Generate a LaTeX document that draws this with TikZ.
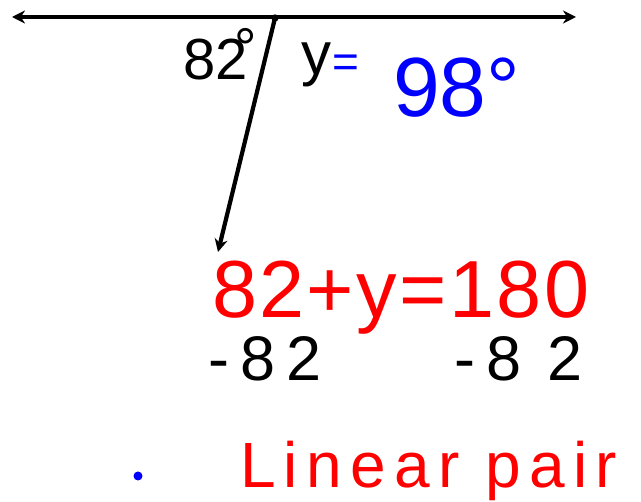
\documentclass[tikz,border=0pt]{standalone}
\usepackage{fontspec}
\setmainfont{Liberation Sans}
\usetikzlibrary{arrows.meta,positioning}
\definecolor{penred}{RGB}{255,0,0}
\definecolor{penblue}{RGB}{0,0,255}
\tikzset{
  label82/.style={inner sep=0pt,anchor=base west,font=\fontsize{58}{60}\selectfont},
  labely/.style={inner sep=0pt,anchor=base west,font=\fontsize{60}{62}\selectfont},
  redpen/.style={inner sep=0pt,anchor=base west,text=penred,font=\fontsize{81}{83}\selectfont\addfontfeature{LetterSpace=3}},
  reasonpen/.style={inner sep=0pt,anchor=base west,text=penred,font=\fontsize{64}{66}\selectfont\addfontfeature{LetterSpace=13}},
  bluepen/.style={inner sep=0pt,anchor=base west,text=penblue,font=\fontsize{84}{86}\selectfont},
  blackpen/.style={inner sep=0pt,anchor=base west,font=\fontsize{63}{65}\selectfont\addfontfeature{LetterSpace=18}},
  vertexdot/.style={circle,fill,inner sep=2.6pt}
}

\begin{document}
\begin{tikzpicture}[x=1pt,y=-1pt,>={Stealth[length=13pt,width=13pt]},line width=4.2pt]
  \useasboundingbox (0,0) rectangle (641,502);
  % the line and the ray
  \coordinate (leftEnd) at (12,17);
  \coordinate (rightEnd) at (576,17);
  \node[vertexdot] (vertex) at (275,18) {};
  \coordinate (rayEnd) at (218,252);
  \draw[<->] (leftEnd) -- (rightEnd);
  \draw[->] (vertex.center) -- (rayEnd);
  % angle labels
  \node[label82] (angA) at (181,80) {82};
  \node[inner sep=0pt,anchor=north,font=\fontsize{56}{56}\selectfont] (degA) at (246,26) {°};
  \node[labely] (angY) at (299,75) {y};
  \node[inner sep=0pt,text=penblue,font=\fontsize{46}{46}\selectfont] (eqY) at (346,66) {=};
  \node[bluepen] (valY) at (391,117) {98°};
  % working
  \node[redpen] (sumEq) at (210,318) {82+y=180};
  \node[blackpen] (subL) at (206,381) {-82};
  \node[blackpen] (subR) at (452,381) {-8\hspace{26pt}2};
  % reason
  \fill[penblue] (138,476) circle (4.5);
  \node[reasonpen] (reason) at (238,488) {Linear pair};
\end{tikzpicture}
\end{document}
